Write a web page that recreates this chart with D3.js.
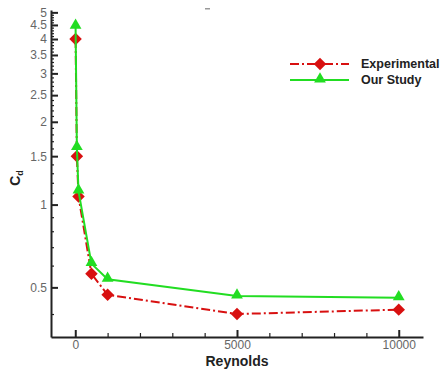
<!DOCTYPE html>
<html lang='en'>
	<head>
		<title>Cd vs Reynolds</title>
		<meta charset=utf-8>
		<script src="https://cdn.jsdelivr.net/npm/d3@7/dist/d3.min.js" charset="utf-8"></script>
		<style>
			body {
				margin: 0;
				background-color: white;
			}
			svg text {
				font-family: "Liberation Sans", Arial, sans-serif;
			}
			.tick text {
				fill: #666;
				font-size: 12px;
			}
			.axis path, .axis line {
				stroke: #222;
			}
		</style>
	</head>
	<body>
		<svg id='chart' width="442" height="369"></svg>
	</body>

	<script>
		// data
		var reynolds = [10, 50, 100, 500, 1000, 5000, 10000];
		var cdExperimental = [4.0, 1.5, 1.07, 0.56, 0.47, 0.40, 0.415];
		var cdOurStudy = [4.45, 1.61, 1.12, 0.61, 0.535, 0.465, 0.458];
		var seriesNames = ['Experimental', 'Our Study'];
		var xTicks = [0, 5000, 10000];
		var xMinorTicks = [1000, 2000, 3000, 4000, 6000, 7000, 8000, 9000];
		var yTicks = [0.5, 1, 1.5, 2, 2.5, 3, 3.5, 4, 4.5, 5];
		var yMinorTicks = [0.4, 0.6, 0.7, 0.8, 0.9, 1.1, 1.2, 1.3, 1.4, 1.6, 1.7, 1.8, 1.9,
			2.1, 2.2, 2.3, 2.4, 2.6, 2.7, 2.8, 2.9, 3.1, 3.2, 3.3, 3.4, 3.6, 3.7, 3.8, 3.9,
			4.1, 4.2, 4.3, 4.4, 4.6, 4.7, 4.8, 4.9];

		var svg = d3.select('#chart');
		var red = '#d81010';
		var green = '#22dd22';

		var x = d3.scaleLinear().domain([-750, 10750]).range([51, 423]);
		var y = d3.scaleLog().domain([0.33, 5.1]).range([337, 10]);

		// minor ticks first, then main axes
		svg.append('g').attr('class', 'axis').attr('transform', 'translate(0,337)')
			.call(d3.axisBottom(x).tickValues(xMinorTicks).tickSize(-4).tickSizeOuter(0).tickFormat(''))
			.call(g => g.select('.domain').remove())
			.selectAll('line').attr('stroke-width', 1.2);
		svg.append('g').attr('class', 'axis').attr('transform', 'translate(51,0)')
			.call(d3.axisLeft(y).tickValues(yMinorTicks).tickSize(-3).tickSizeOuter(0).tickFormat(''))
			.call(g => g.select('.domain').remove())
			.selectAll('line').attr('stroke-width', 1.2);

		var xAxis = svg.append('g').attr('class', 'axis').attr('transform', 'translate(0,337)')
			.call(d3.axisBottom(x).tickValues(xTicks).tickSize(-7).tickSizeOuter(0).tickPadding(3).tickFormat(d3.format('d')));
		xAxis.select('.domain').attr('stroke-width', 2);
		xAxis.selectAll('.tick line').attr('stroke-width', 2);

		var yAxis = svg.append('g').attr('class', 'axis').attr('transform', 'translate(51,0)')
			.call(d3.axisLeft(y).tickValues(yTicks).tickSize(-7).tickSizeOuter(0).tickPadding(4).tickFormat(d3.format('')));
		yAxis.select('.domain').attr('stroke-width', 2);
		yAxis.selectAll('.tick line').attr('stroke-width', 2);

		// axis titles
		svg.append('text').attr('x', 237).attr('y', 366).attr('text-anchor', 'middle')
			.attr('font-size', 14).attr('font-weight', 'bold').attr('fill', '#222').text('Reynolds');
		var yl = svg.append('text').attr('transform', 'translate(20,178) rotate(-90)')
			.attr('text-anchor', 'middle').attr('font-size', 14).attr('font-weight', 'bold').attr('fill', '#222');
		yl.append('tspan').text('C');
		yl.append('tspan').attr('font-size', 9).attr('dy', 3).text('d');

		// small stray mark at top
		svg.append('rect').attr('x', 205).attr('y', 8).attr('width', 5).attr('height', 1.5).attr('fill', '#999');

		// diamond = square turned 45 degrees
		var diamond = d3.symbol().type(d3.symbolSquare).size(78);
		var triangle = d3.symbol().type(d3.symbolTriangle).size(60);

		var line = d3.line().x(d => x(d[0])).y(d => y(d[1]));

		var expData = reynolds.map((r, i) => [r, cdExperimental[i]]);
		var ourData = reynolds.map((r, i) => [r, cdOurStudy[i]]);

		// experimental
		svg.append('path').datum(expData).attr('d', line).attr('fill', 'none')
			.attr('stroke', red).attr('stroke-width', 2).attr('stroke-dasharray', '9,3,2,3');
		svg.selectAll('.exp').data(expData).enter().append('path').attr('class', 'exp')
			.attr('d', diamond).attr('fill', red)
			.attr('transform', d => 'translate(' + x(d[0]) + ',' + y(d[1]) + ') rotate(45)');

		// our study
		svg.append('path').datum(ourData).attr('d', line).attr('fill', 'none')
			.attr('stroke', green).attr('stroke-width', 2);
		svg.selectAll('.our').data(ourData).enter().append('path').attr('class', 'our')
			.attr('d', triangle).attr('fill', green)
			.attr('transform', d => 'translate(' + x(d[0]) + ',' + (y(d[1]) - 1) + ')');

		// legend
		var legend = svg.append('g');
		var styles = [
			{color: red, dash: '9,3,2,3', sym: diamond, rot: 45},
			{color: green, dash: null, sym: triangle, rot: 0}
		];
		seriesNames.forEach(function(name, i) {
			var ly = 64 + i * 16;
			legend.append('line').attr('x1', 290).attr('x2', 349).attr('y1', ly).attr('y2', ly)
				.attr('stroke', styles[i].color).attr('stroke-width', 2).attr('stroke-dasharray', styles[i].dash);
			legend.append('path').attr('d', styles[i].sym).attr('fill', styles[i].color)
				.attr('transform', 'translate(320,' + (ly - (i ? 1 : 0)) + ') rotate(' + styles[i].rot + ')');
			legend.append('text').attr('x', 361).attr('y', ly + 4).attr('font-size', 12.5)
				.attr('font-weight', 'bold').attr('fill', '#222').text(name);
		});
	</script>
</html>
